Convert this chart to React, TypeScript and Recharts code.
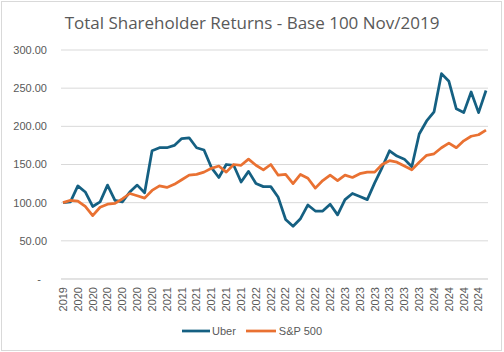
import React from "react";
import { LineChart, Line, XAxis, YAxis, CartesianGrid, Legend } from "recharts";

const months: string[] = [
  "2019-11", "2019-12",
  "2020-01", "2020-02", "2020-03", "2020-04", "2020-05", "2020-06", "2020-07", "2020-08", "2020-09", "2020-10", "2020-11", "2020-12",
  "2021-01", "2021-02", "2021-03", "2021-04", "2021-05", "2021-06", "2021-07", "2021-08", "2021-09", "2021-10", "2021-11", "2021-12",
  "2022-01", "2022-02", "2022-03", "2022-04", "2022-05", "2022-06", "2022-07", "2022-08", "2022-09", "2022-10", "2022-11", "2022-12",
  "2023-01", "2023-02", "2023-03", "2023-04", "2023-05", "2023-06", "2023-07", "2023-08", "2023-09", "2023-10", "2023-11", "2023-12",
  "2024-01", "2024-02", "2024-03", "2024-04", "2024-05", "2024-06", "2024-07", "2024-08",
];

const uber: number[] = [
  100, 101, 122, 114, 95, 101, 123, 103, 101, 114, 123, 113,
  168, 172, 172, 175, 184, 185, 172, 169, 146, 133, 150, 149,
  127, 141, 125, 121, 121, 107, 78, 69, 79, 97, 89, 89,
  98, 84, 104, 112, 108, 104, 126, 146, 168, 161, 157, 147,
  190, 207, 219, 269, 259, 223, 218, 245, 218, 247,
];

const sp500: number[] = [
  100, 103, 102, 95, 83, 94, 98, 99, 105, 112, 109, 106,
  116, 122, 120, 124, 130, 136, 137, 140, 145, 148, 140, 150,
  149, 157, 149, 143, 150, 136, 137, 125, 137, 132, 119, 129,
  136, 129, 136, 133, 138, 140, 140, 150, 155, 153, 148, 143,
  153, 162, 164, 172, 178, 172, 181, 187, 189, 195,
];

const yTicks: number[] = [0, 50, 100, 150, 200, 250, 300];

const seriesNames = { uber: "Uber", sp500: "S&P 500" };
const title = "Total Shareholder Returns - Base 100 Nov/2019";

const data = months.map((m, i) => ({ month: m, uber: uber[i], sp500: sp500[i] }));

const UBER_COLOR = "#156082";
const SP_COLOR = "#E97132";
const TEXT_COLOR = "#595959";
const GRID_COLOR = "#d9d9d9";
const FONT = "'Liberation Sans', Arial, sans-serif";

const XTick = (props: any) => {
  const { x, y, payload } = props;
  const label = String(payload.value).slice(0, 4);
  return (
    <text
      x={x}
      y={y}
      transform={`rotate(-90 ${x} ${y})`}
      textAnchor="end"
      dy="0.35em"
      fontSize={11}
      fill={TEXT_COLOR}
      fontFamily={FONT}
    >
      {label}
    </text>
  );
};

const YTick = (props: any) => {
  const { x, y, payload } = props;
  const v = Number(payload.value);
  const label = v === 0 ? "-" : v.toFixed(2);
  return (
    <text
      x={v === 0 ? x - 6 : x}
      y={y}
      textAnchor="end"
      dy="0.35em"
      fontSize={11}
      fill={TEXT_COLOR}
      fontFamily={FONT}
    >
      {label}
    </text>
  );
};

const LegendContent = () => (
  <div
    style={{
      display: "flex",
      justifyContent: "center",
      alignItems: "center",
      fontFamily: FONT,
      fontSize: 11,
      color: TEXT_COLOR,
      gap: 10,
    }}
  >
    <div style={{ display: "flex", alignItems: "center" }}>
      <svg width={28} height={6} style={{ marginRight: 2 }}>
        <line x1={0} y1={3} x2={28} y2={3} stroke={UBER_COLOR} strokeWidth={2.75} />
      </svg>
      <span>{seriesNames.uber}</span>
    </div>
    <div style={{ display: "flex", alignItems: "center" }}>
      <svg width={30} height={6} style={{ marginRight: 3 }}>
        <line x1={0} y1={3} x2={30} y2={3} stroke={SP_COLOR} strokeWidth={2.75} />
      </svg>
      <span>{seriesNames.sp500}</span>
    </div>
  </div>
);

export default function App() {
  return (
    <div style={{ position: "absolute", left: 0, top: 0, width: 504, height: 352, background: "#fff" }}>
      <div
        style={{
          position: "absolute",
          left: 1,
          top: 1,
          width: 501,
          height: 350,
          boxSizing: "border-box",
          border: `1px solid ${GRID_COLOR}`,
        }}
      />
      <div
        style={{
          position: "absolute",
          left: 0,
          top: 12,
          width: 504,
          textAlign: "center",
          fontFamily: "'Open Sans', sans-serif",
          fontSize: 17,
          color: TEXT_COLOR,
          lineHeight: "22px",
        }}
      >
        {title}
      </div>
      <div style={{ position: "absolute", left: 0, top: 0 }}>
        <LineChart width={504} height={352} data={data} margin={{ top: 50, right: 16, bottom: 0, left: 0 }}>
          <CartesianGrid vertical={false} stroke={GRID_COLOR} strokeWidth={1} />
          <XAxis
            dataKey="month"
            interval={1}
            height={73}
            padding={{ left: 2, right: 2 }}
            axisLine={{ stroke: GRID_COLOR }}
            tickLine={false}
            tickSize={0}
            tickMargin={8}
            tick={<XTick />}
          />
          <YAxis
            domain={[0, 300]}
            ticks={yTicks}
            width={61}
            axisLine={false}
            tickLine={false}
            tickSize={0}
            tickMargin={14}
            tick={<YTick />}
          />
          <Legend
            layout="horizontal"
            verticalAlign="middle"
            align="center"
            wrapperStyle={{ top: 325, left: 0, width: 504 }}
            content={<LegendContent />}
          />
          <Line
            type="linear"
            dataKey="uber"
            name={seriesNames.uber}
            stroke={UBER_COLOR}
            strokeWidth={2.75}
            dot={false}
            strokeLinejoin="round"
            isAnimationActive={false}
          />
          <Line
            type="linear"
            dataKey="sp500"
            name={seriesNames.sp500}
            stroke={SP_COLOR}
            strokeWidth={2.75}
            dot={false}
            strokeLinejoin="round"
            isAnimationActive={false}
          />
        </LineChart>
      </div>
    </div>
  );
}
